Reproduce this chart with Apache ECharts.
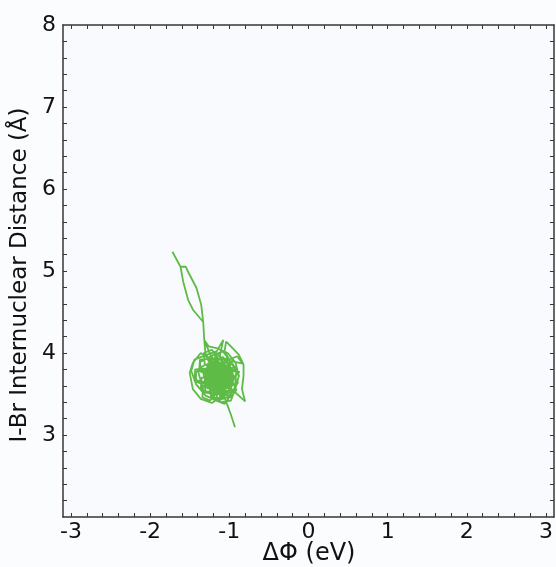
<!DOCTYPE html>
<html>
<head>
<meta charset="utf-8">
<script src="https://cdn.jsdelivr.net/npm/echarts@6/dist/echarts.min.js"></script>
<style>
html,body{margin:0;padding:0;background:#fbfcfe;}
#chart{width:556px;height:567px;}
</style>
</head>
<body>
<div id="chart"></div>
<script>
// Trajectory points [ΔΦ (eV), I-Br distance (Å)]
var trajectory = [
[-0.928,3.094],[-0.98,3.25],[-1.03,3.38],[-1.076,3.51],
[-1.12,3.58],[-1.22,3.66],[-1.18,3.80],[-1.30,3.86],[-1.40,3.80],[-1.36,3.66],[-1.24,3.56],[-1.10,3.48],
[-0.98,3.56],[-0.94,3.70],[-1.00,3.86],[-1.12,3.96],[-1.076,4.16],[-1.16,4.02],[-1.28,3.98],[-1.44,3.92],
[-1.48,3.78],[-1.42,3.62],[-1.30,3.48],[-1.16,3.42],[-1.02,3.46],[-0.92,3.58],[-0.88,3.72],[-0.92,3.88],
[-1.02,4.00],[-1.16,4.06],[-1.26,4.08],[-1.316,4.159],
[-1.329,4.378],[-1.354,4.585],[-1.414,4.793],[-1.532,5.012],[-1.548,5.052],[-1.616,5.052],
[-1.582,4.870],[-1.519,4.646],[-1.456,4.524],[-1.329,4.378],[-1.316,4.159],[-1.24,3.98],
[-1.11,3.81],[-1.18,3.90],[-1.28,3.86],[-1.27,3.72],[-1.15,3.71],
[-0.97,3.63],[-1.04,3.72],[-1.14,3.68],[-1.13,3.54],[-1.01,3.53],
[-1.19,3.61],[-1.26,3.52],[-1.36,3.56],[-1.35,3.70],[-1.23,3.71],
[-0.93,3.83],[-1.00,3.92],[-1.10,3.88],[-1.09,3.74],[-0.97,3.73],
[-1.07,3.55],[-1.14,3.64],[-1.24,3.60],[-1.23,3.46],[-1.11,3.45],
[-1.21,3.83],[-1.28,3.74],[-1.38,3.78],[-1.37,3.92],[-1.25,3.93],
[-1.01,3.93],[-1.08,4.02],[-1.18,3.98],[-1.17,3.84],[-1.05,3.83],
[-0.91,3.55],[-0.98,3.46],[-1.08,3.50],[-1.07,3.64],[-0.95,3.65],
[-1.13,3.71],[-1.20,3.80],[-1.30,3.76],[-1.29,3.62],[-1.17,3.61],
[-1.03,3.73],[-1.10,3.64],[-1.20,3.68],[-1.19,3.82],[-1.07,3.83],
[-1.03,3.71],[-1.08,3.79],[-1.16,3.74],[-1.14,3.64],[-1.06,3.63],
[-1.13,3.80],[-1.19,3.87],[-1.27,3.81],[-1.24,3.71],[-1.16,3.72],
[-1.18,3.64],[-1.22,3.73],[-1.31,3.70],[-1.31,3.60],[-1.23,3.57],
[-1.05,3.60],[-1.10,3.67],[-1.19,3.62],[-1.16,3.51],[-1.08,3.51],
[-0.95,3.68],[-1.00,3.75],[-1.09,3.70],[-1.07,3.60],[-0.99,3.59],
[-0.99,3.84],[-1.04,3.91],[-1.13,3.86],[-1.11,3.76],[-1.03,3.75],
[-1.10,3.93],[-1.16,4.00],[-1.25,3.95],[-1.24,3.85],[-1.15,3.83],
[-1.23,3.86],[-1.28,3.93],[-1.37,3.89],[-1.36,3.79],[-1.28,3.77],
[-1.29,3.73],[-1.33,3.81],[-1.42,3.77],[-1.42,3.67],[-1.34,3.65],
[-1.21,3.60],[-1.26,3.67],[-1.35,3.63],[-1.33,3.52],[-1.25,3.51],
[-1.10,3.40],[-0.98,3.42],[-0.937,3.53],[-0.80,3.41],[-0.84,3.56],[-0.82,3.72],[-0.82,3.86],[-0.88,3.98],
[-0.98,4.08],[-1.04,4.14],[-1.06,4.02],
[-0.87,3.71],[-0.94,3.80],[-1.04,3.76],[-1.03,3.62],[-0.91,3.61],
[-1.27,3.71],[-1.34,3.62],[-1.44,3.66],[-1.43,3.80],[-1.31,3.81],
[-1.09,3.65],[-1.16,3.74],[-1.26,3.70],[-1.25,3.56],[-1.13,3.55],
[-0.99,3.47],[-1.06,3.38],[-1.16,3.42],[-1.15,3.56],[-1.03,3.57],
[-1.15,3.95],[-1.22,4.04],[-1.32,4.00],[-1.31,3.86],[-1.19,3.85],
[-0.95,3.71],[-1.02,3.80],[-1.12,3.76],[-1.11,3.62],[-0.99,3.61],
[-1.07,3.83],[-1.14,3.74],[-1.24,3.78],[-1.23,3.92],[-1.11,3.93],
[-0.83,3.87],[-0.90,3.96],[-1.00,3.92],[-0.99,3.78],[-0.87,3.77],
[-1.17,3.51],[-1.24,3.42],[-1.34,3.46],[-1.33,3.60],[-1.21,3.61],
[-1.05,3.71],[-1.12,3.80],[-1.22,3.76],[-1.21,3.62],[-1.09,3.61],
[-1.09,3.52],[-1.14,3.58],[-1.23,3.54],[-1.21,3.44],[-1.13,3.43],
[-0.97,3.54],[-1.02,3.60],[-1.11,3.56],[-1.09,3.46],[-1.01,3.45],
[-0.89,3.64],[-0.94,3.71],[-1.03,3.66],[-1.01,3.56],[-0.93,3.55],
[-0.91,3.80],[-0.96,3.87],[-1.05,3.82],[-1.03,3.72],[-0.95,3.71],
[-1.03,3.88],[-1.08,3.95],[-1.17,3.90],[-1.15,3.80],[-1.07,3.79],
[-1.15,3.72],[-1.20,3.79],[-1.29,3.74],[-1.27,3.64],[-1.19,3.63],
[-1.07,3.66],[-1.12,3.73],[-1.21,3.68],[-1.19,3.58],[-1.11,3.57],
[-1.01,3.78],[-1.06,3.85],[-1.15,3.80],[-1.13,3.70],[-1.05,3.69],
[-1.13,3.64],[-1.18,3.71],[-1.27,3.66],[-1.25,3.56],[-1.17,3.55],
[-1.09,3.82],[-1.14,3.89],[-1.23,3.84],[-1.21,3.74],[-1.13,3.73],
[-1.24,3.92],[-1.36,4.00],[-1.46,3.88],[-1.50,3.76],[-1.46,3.56],[-1.36,3.44],[-1.22,3.39],[-1.12,3.46],
[-1.05,3.70],[-1.10,3.79],[-1.19,3.76],[-1.18,3.66],[-1.10,3.64],
[-1.17,3.78],[-1.22,3.85],[-1.31,3.80],[-1.29,3.70],[-1.21,3.69],
[-0.99,3.70],[-1.04,3.77],[-1.13,3.72],[-1.11,3.62],[-1.03,3.61],
[-1.11,3.58],[-1.16,3.65],[-1.25,3.60],[-1.23,3.50],[-1.15,3.49],
[-1.07,3.86],[-1.12,3.93],[-1.21,3.88],[-1.19,3.78],[-1.11,3.77],
[-1.10,3.71],[-1.14,3.76],[-1.20,3.73],[-1.19,3.65],[-1.12,3.65],
[-1.03,3.63],[-1.07,3.68],[-1.13,3.65],[-1.12,3.57],[-1.05,3.57],
[-1.17,3.77],[-1.19,3.72],[-1.26,3.73],[-1.27,3.81],[-1.21,3.84],
[-1.13,3.61],[-1.17,3.66],[-1.23,3.63],[-1.22,3.55],[-1.15,3.55],
[-1.00,3.75],[-1.04,3.80],[-1.10,3.77],[-1.09,3.69],[-1.02,3.69],
[-1.21,3.67],[-1.23,3.62],[-1.30,3.63],[-1.31,3.71],[-1.25,3.74],
[-1.07,3.83],[-1.11,3.88],[-1.17,3.85],[-1.16,3.77],[-1.09,3.77],
[-1.15,3.71],[-1.19,3.76],[-1.25,3.73],[-1.24,3.65],[-1.17,3.65],
[-1.05,3.57],[-1.07,3.52],[-1.14,3.53],[-1.15,3.61],[-1.09,3.64],
[-1.19,3.63],[-1.23,3.68],[-1.29,3.65],[-1.28,3.57],[-1.21,3.57],
[-0.99,3.67],[-1.03,3.72],[-1.09,3.69],[-1.08,3.61],[-1.01,3.61],
[-1.11,3.79],[-1.13,3.74],[-1.20,3.75],[-1.21,3.83],[-1.15,3.86],
[-1.09,3.67],[-1.13,3.72],[-1.19,3.69],[-1.18,3.61],[-1.11,3.61],
[-1.17,3.85],[-1.21,3.90],[-1.27,3.87],[-1.26,3.79],[-1.19,3.79],
[-1.03,3.69],[-1.05,3.64],[-1.12,3.65],[-1.13,3.73],[-1.07,3.76],
[-1.23,3.77],[-1.27,3.82],[-1.33,3.79],[-1.32,3.71],[-1.25,3.71],
[-1.07,3.77],[-1.11,3.82],[-1.17,3.79],[-1.16,3.71],[-1.09,3.71],
[-1.13,3.63],[-1.15,3.58],[-1.22,3.59],[-1.23,3.67],[-1.17,3.70],
[-0.97,3.81],[-1.01,3.86],[-1.07,3.83],[-1.06,3.75],[-0.99,3.75],
[-1.11,3.57],[-1.15,3.62],[-1.21,3.59],[-1.20,3.51],[-1.13,3.51],
[-1.15,3.73],[-1.17,3.68],[-1.24,3.69],[-1.25,3.77],[-1.19,3.80],
[-1.05,3.69],[-1.09,3.74],[-1.15,3.71],[-1.14,3.63],[-1.07,3.63],
[-1.21,3.59],[-1.25,3.64],[-1.31,3.61],[-1.30,3.53],[-1.23,3.53],
[-1.01,3.83],[-1.03,3.78],[-1.10,3.79],[-1.11,3.87],[-1.05,3.90],
[-1.09,3.63],[-1.13,3.68],[-1.19,3.65],[-1.18,3.57],[-1.11,3.57],
[-1.13,3.89],[-1.17,3.94],[-1.23,3.91],[-1.22,3.83],[-1.15,3.83],
[-1.22,3.90],[-1.30,3.98],[-1.316,4.159],[-1.329,4.378],[-1.456,4.524],[-1.519,4.646],[-1.582,4.870],
[-1.616,5.052],[-1.718,5.235]
];
var xTickLabels = [-3,-2,-1,0,1,2,3];
var yTickLabels = [3,4,5,6,7,8];
var xTicks = [-3.0,-2.8,-2.6,-2.4,-2.2,-2.0,-1.8,-1.6,-1.4,-1.2,-1.0,-0.8,-0.6,-0.4,-0.2,0,
  0.2,0.4,0.6,0.8,1.0,1.2,1.4,1.6,1.8,2.0,2.2,2.4,2.6,2.8,3.0];
var yTicks = [2.2,2.4,2.6,2.8,3.0,3.2,3.4,3.6,3.8,4.0,4.2,4.4,4.6,4.8,5.0,5.2,5.4,5.6,5.8,
  6.0,6.2,6.4,6.6,6.8,7.0,7.2,7.4,7.6,7.8];
var xAxisTitle = 'ΔΦ (eV)';
var yAxisTitle = 'I-Br Internuclear Distance (Å)';

var frame = '#3a3434';
var font = 'DejaVu Sans';

function xAx(pos, show){
  return {
    type:'value', position:pos, min:-3.1, max:3.1,
    axisLine:{show:true, onZero:false, lineStyle:{color:frame, width:1.5}},
    axisTick:{show:true, inside:true, length:4, customValues:xTicks, lineStyle:{color:frame, width:1}},
    axisLabel:{show:show, customValues:xTickLabels, fontSize:22, color:'#111', fontFamily:font, margin:4},
    splitLine:{show:false}
  };
}
function yAx(pos, show){
  return {
    type:'value', position:pos, min:2, max:8,
    name: show ? yAxisTitle : '', nameLocation:'middle', nameGap:25,
    nameTextStyle:{fontSize:23, color:'#111', fontFamily:font, padding:[0,8,0,0]},
    axisLine:{show:true, onZero:false, lineStyle:{color:frame, width:1.5}},
    axisTick:{show:true, inside:true, length:4, customValues:yTicks, lineStyle:{color:frame, width:1}},
    axisLabel:{show:show, customValues:yTickLabels, fontSize:22, color:'#111', fontFamily:font, margin:7},
    splitLine:{show:false}
  };
}

var chart = echarts.init(document.getElementById('chart'), null, {renderer:'canvas'});
chart.setOption({
  backgroundColor:'#fbfcfe',
  animation:false,
  grid:{left:63, right:2, top:25, bottom:50, show:true, backgroundColor:'#f9fafd', borderWidth:0},
  xAxis:[xAx('bottom', true), xAx('top', false)],
  yAxis:[yAx('left', true), yAx('right', false)],
  graphic:[{
    type:'text', x:309, y:542,
    style:{text:xAxisTitle, fill:'#111', font:'24px "DejaVu Sans"', textAlign:'center', textVerticalAlign:'top'}
  }],
  series:[{
    type:'line', xAxisIndex:0, yAxisIndex:0,
    data:trajectory, showSymbol:false, symbol:'none',
    lineStyle:{color:'#5dbb46', width:1.8},
    clip:true
  }]
});
</script>
</body>
</html>
